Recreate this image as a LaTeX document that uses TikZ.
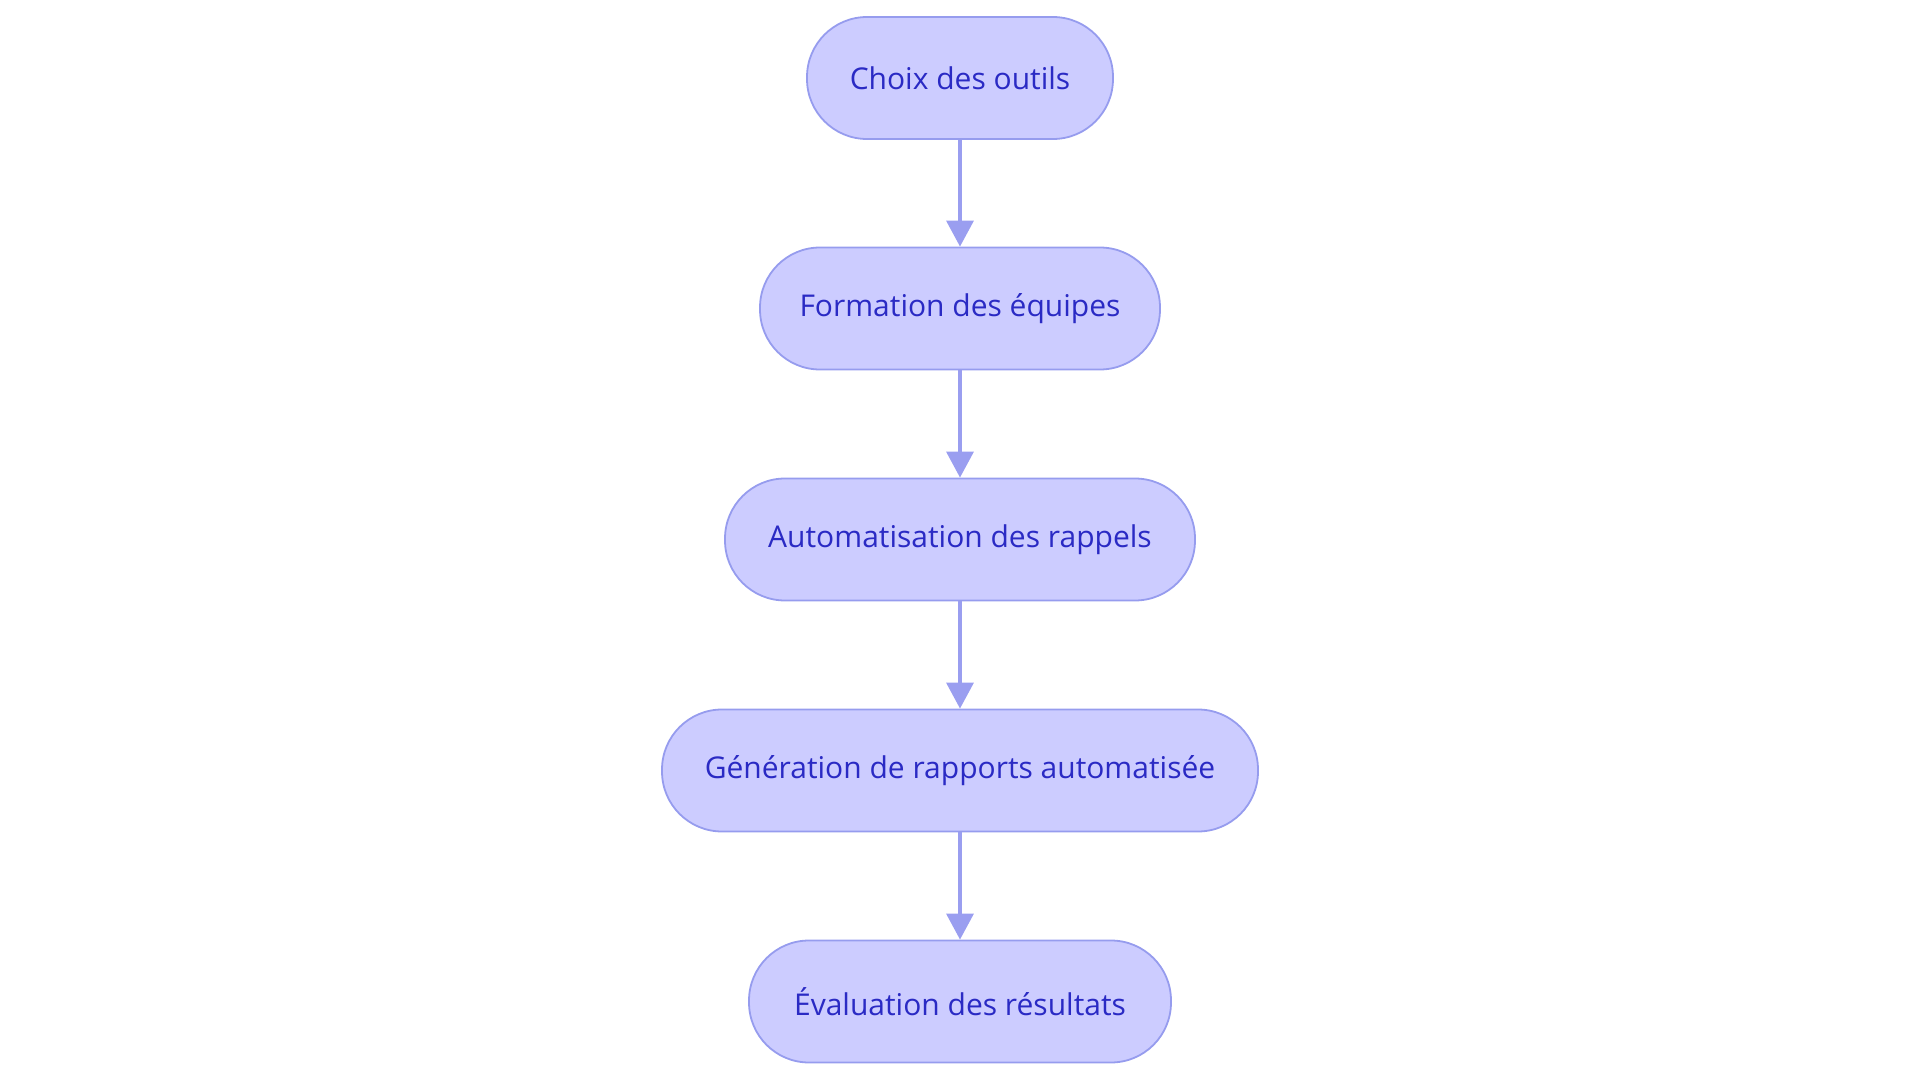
\documentclass[tikz,border=0pt]{standalone}
\usepackage{fontspec}
\setmainfont{Open Sans}
\usetikzlibrary{arrows.meta}
\definecolor{nodefill}{RGB}{204,204,255}
\definecolor{nodedraw}{RGB}{150,156,238}
\definecolor{nodetext}{RGB}{42,42,196}
\definecolor{edgecol}{RGB}{154,158,240}
\tikzset{
  stadium/.style={draw=nodedraw, fill=nodefill, line width=1.8pt, rounded corners=60pt,
    minimum height=122pt, inner sep=0pt, text=nodetext,
    font=\fontsize{30}{36}\selectfont},
  flow/.style={draw=edgecol, line width=3.5pt, -{Triangle[width=27pt,length=26pt]}}
}
\begin{document}
\begin{tikzpicture}[x=1pt,y=-1pt]
\useasboundingbox (0,0) rectangle (1920,1083);
\node[stadium, minimum width=306pt] (n1) at (960,78) {Choix des outils};
\node[stadium, minimum width=400pt] (n2) at (960,308.5) {Formation des équipes};
\node[stadium, minimum width=470pt] (n3) at (960,539.5) {Automatisation des rappels};
\node[stadium, minimum width=596pt] (n4) at (960,770.5) {Génération de rapports automatisée};
\node[stadium, minimum width=422pt] (n5) at (960,1001.5) {Évaluation des résultats};
\draw[flow] (n1) -- (n2);
\draw[flow] (n2) -- (n3);
\draw[flow] (n3) -- (n4);
\draw[flow] (n4) -- (n5);
\end{tikzpicture}
\end{document}
